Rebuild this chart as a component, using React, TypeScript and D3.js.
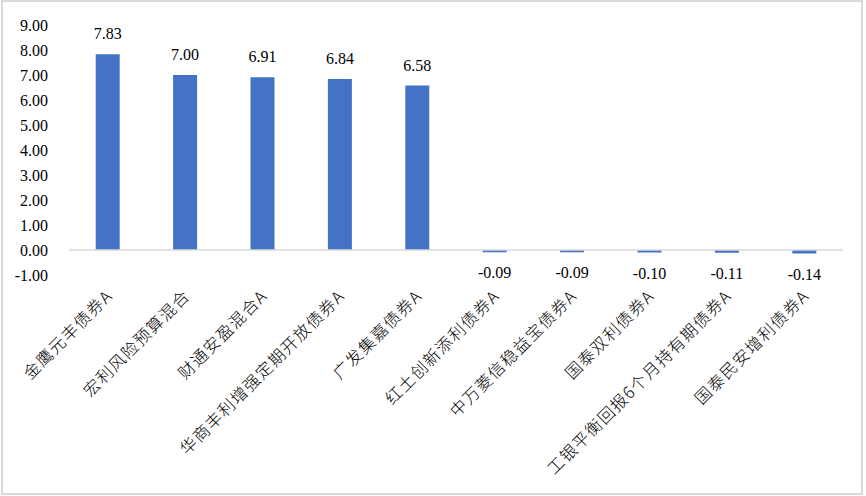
import React from "react";
import * as d3 from "d3";

const categories = [
  "金鹰元丰债券A",
  "宏利风险预算混合",
  "财通安盈混合A",
  "华商丰利增强定期开放债券A",
  "广发集嘉债券A",
  "红土创新添利债券A",
  "中万菱信稳益宝债券A",
  "国泰双利债券A",
  "工银平衡回报6个月持有期债券A",
  "国泰民安增利债券A",
];
const values = [7.83, 7.0, 6.91, 6.84, 6.58, -0.09, -0.09, -0.1, -0.11, -0.14];
const yTicks = [-1, 0, 1, 2, 3, 4, 5, 6, 7, 8, 9];

const W = 866;
const H = 496;
const serif = "'Liberation Serif', 'Times New Roman', serif";
const cjk = "'Noto Sans CJK SC', sans-serif";

export default function App() {
  const x = d3.scaleBand<string>().domain(categories).range([69, 843]).paddingInner(0).paddingOuter(0);
  const y = d3.scaleLinear().domain([-1, 9]).range([275, 25]);
  const barW = 24;
  const fmt = (v: number) => v.toFixed(2);
  return (
    <svg width={W} height={H} style={{ position: "absolute", left: 0, top: 0, background: "#fff" }}>
      <rect x={2} y={1} width={860} height={493} fill="#fff" stroke="#d9d9d9" strokeWidth={2} />
      {yTicks.map((t) => (
        <text key={t} x={48} y={y(t)} dy="0.35em" textAnchor="end" fontFamily={serif} fontSize={16} fill="#000">
          {fmt(t)}
        </text>
      ))}
      {categories.map((c, i) => {
        const v = values[i];
        const cx = (x(c) as number) + x.bandwidth() / 2;
        const top = y(Math.max(0, v));
        const bot = y(Math.min(0, v));
        return (
          <g key={c}>
            <rect x={cx - barW / 2} y={top} width={barW} height={Math.max(bot - top, 0)} fill="#4472C4" />
            <text
              x={cx}
              y={v >= 0 ? top - 15 : bot + 26}
              textAnchor="middle"
              fontFamily={serif}
              fontSize={16}
              fill="#000"
            >
              {fmt(v)}
            </text>
          </g>
        );
      })}
      <line x1={69} x2={843} y1={y(0)} y2={y(0)} stroke="#d9d9d9" strokeWidth={1.5} />
      {categories.map((c) => {
        const cx = (x(c) as number) + x.bandwidth() / 2;
        const ax = cx + 6;
        const ay = 297;
        return (
          <text
            key={"l" + c}
            x={ax}
            y={ay}
            transform={`rotate(-45, ${ax}, ${ay})`}
            textAnchor="end"
            fontFamily={cjk}
            fontSize={16.5}
            letterSpacing={1.3}
            fontWeight={300}
            fill="#000"
          >
            {c}
          </text>
        );
      })}
    </svg>
  );
}
